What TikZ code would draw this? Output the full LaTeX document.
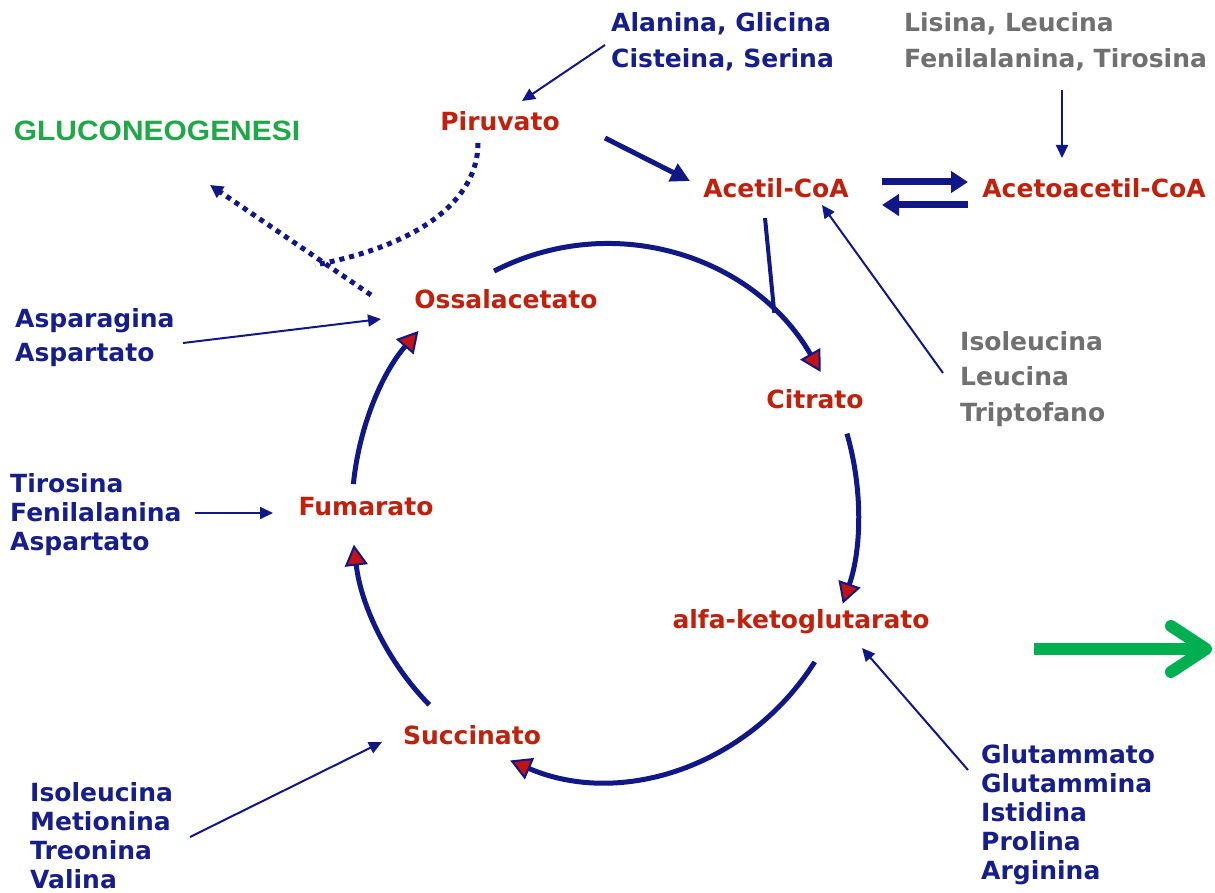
\documentclass[tikz,border=0pt]{standalone}
\usepackage{fontspec}
\setmainfont{DejaVu Sans}
\newfontfamily\arialfont{Liberation Sans}
\usetikzlibrary{arrows.meta,calc}
\definecolor{navy}{RGB}{16,24,135}
\definecolor{btext}{RGB}{22,30,140}
\definecolor{rtext}{RGB}{192,32,12}
\definecolor{gtext}{RGB}{112,112,112}
\definecolor{grtext}{RGB}{30,168,70}
\definecolor{grarrow}{RGB}{0,176,80}
\definecolor{trired}{RGB}{196,18,18}
\tikzset{
  txt/.style={inner sep=0pt, font=\fontsize{25}{29}\selectfont\bfseries},
  amino/.style={txt, text=btext, align=left, anchor=west},
  aminog/.style={txt, text=gtext, align=left, anchor=west},
  metab/.style={txt, text=rtext},
  thin/.style={draw=navy, line width=2pt, -{Triangle[length=13pt,width=12pt]}},
  thick/.style={draw=navy, line width=5pt, -{Triangle[length=19pt,width=19pt]}},
  eqarrow/.style={draw=navy, line width=7pt, -{Triangle[length=17pt,width=21pt]}},
  cyc/.style={draw=navy, line width=5pt, -{Triangle[fill=trired, length=21pt, width=23pt, line width=2pt]}},
  dots/.style={draw=navy, line width=5pt, dash pattern=on 5pt off 5pt},
}
\begin{document}
\begin{tikzpicture}[x=1pt,y=-1pt]
\useasboundingbox (0,0) rectangle (1215,893);
\fill[white] (0,0) rectangle (1215,893);

% ---- text nodes
\node[amino] (alan) at (611,42) {Alanina, Glicina\\[7pt]Cisteina, Serina};
\node[aminog] (lis) at (904,42) {Lisina, Leucina\\[7pt]Fenilalanina, Tirosina};
\node[metab] (piru) at (500,121) {Piruvato};
\node[inner sep=0pt, text=grtext, font=\arialfont\bfseries\fontsize{28}{30}\selectfont] (gluco) at (157,131) {\scalebox{1.07}[1]{GLUCONEOGENESI}};
\node[metab] (acetil) at (776,188) {Acetil-CoA};
\node[metab] (acetoac) at (1094,188) {Acetoacetil-CoA};
\node[metab] (ossa) at (506,299) {Ossalacetato};
\node[amino] (aspar) at (15,338) {Asparagina\\[5pt]Aspartato};
\node[metab] (citr) at (815,399) {Citrato};
\node[aminog] (isoR) at (960,379) {Isoleucina\\[6.5pt]Leucina\\[6.5pt]Triptofano};
\node[amino] (tiro) at (10,515) {Tirosina\\Fenilalanina\\Aspartato};
\node[metab] (fuma) at (366,507) {Fumarato};
\node[metab] (alfa) at (801,622) {alfa-ketoglutarato};
\node[metab] (succ) at (472,735) {Succinato};
\node[amino] (isoL) at (30,836) {Isoleucina\\Metionina\\Treonina\\Valina};
\node[amino] (glut) at (981,815) {Glutammato\\Glutammina\\Istidina\\Prolina\\Arginina};

% ---- connector end coordinates
\coordinate (alanS) at (605,45);   \coordinate (piruN) at (522,101);
\coordinate (lisS) at (1062,90);   \coordinate (acetoacN) at (1062,158);
\coordinate (piruE) at (605,138);  \coordinate (acetilW) at (690,181);
\coordinate (acetilE1) at (882,182); \coordinate (acetoacW1) at (968,182);
\coordinate (acetoacW2) at (968,205); \coordinate (acetilE2) at (882,205);
\coordinate (isoRN) at (943,373);  \coordinate (acetilS) at (822,205);
\coordinate (asparE) at (183,343); \coordinate (ossaW) at (381,319);
\coordinate (tiroE) at (195,513);  \coordinate (fumaW) at (273,513);
\coordinate (isoLE) at (190,837);  \coordinate (succW) at (382,742);
\coordinate (glutN) at (968,770);  \coordinate (alfaS) at (862,648);
\coordinate (acetilD) at (765,218);
\coordinate (C) at (605,512);
\coordinate (join) at ($(C)+(-48:253 and 268)$);
\coordinate (piruD) at (478,143);  \coordinate (dotmeet) at (315,265);
\coordinate (ossaNW) at (371,295); \coordinate (glucoSE) at (210,185);
\coordinate (grA) at (1034,649);   \coordinate (grB) at (1206,649);
\coordinate (grU) at (1171,626);   \coordinate (grD) at (1171,672);

% ---- thin arrows
\draw[thin] (alanS) -- (piruN);
\draw[thin] (lisS) -- (acetoacN);
\draw[thin] (isoRN) -- (acetilS);
\draw[thin] (asparE) -- (ossaW);
\draw[thin] (tiroE) -- (fumaW);
\draw[thin] (isoLE) -- (succW);
\draw[thin] (glutN) -- (alfaS);

% ---- thick arrows
\draw[thick] (piruE) -- (acetilW);
\draw[eqarrow] (acetilE1) -- (acetoacW1);
\draw[eqarrow] (acetoacW2) -- (acetilE2);

% ---- cycle
\draw[cyc] ($(C)+(-116:253 and 268)$) arc[start angle=-116, end angle=-31.5, x radius=253, y radius=268];
\draw[cyc] ($(C)+(-17:253 and 268)$) arc[start angle=-17, end angle=20, x radius=253, y radius=268];
\draw[cyc] ($(C)+(34:253 and 268)$) arc[start angle=34, end angle=112, x radius=253, y radius=268];
\draw[cyc] ($(C)+(134:253 and 268)$) arc[start angle=134, end angle=173, x radius=253, y radius=268];
\draw[cyc] ($(C)+(186:253 and 268)$) arc[start angle=186, end angle=222.5, x radius=253, y radius=268];
\draw[draw=navy, line width=4pt] (acetilD) -- (join);

% ---- dotted
\draw[dots] (piruD) .. controls (478,200) and (420,245) .. (dotmeet);
\draw[dots, -{Triangle[length=13pt,width=13pt]}] (ossaNW) -- (glucoSE);

% ---- green arrow
\draw[grarrow, line width=12pt] (grA) -- (grB);
\draw[grarrow, line width=12pt, line cap=round, line join=round] (grU) -- (grB) -- (grD);
\end{tikzpicture}
\end{document}
